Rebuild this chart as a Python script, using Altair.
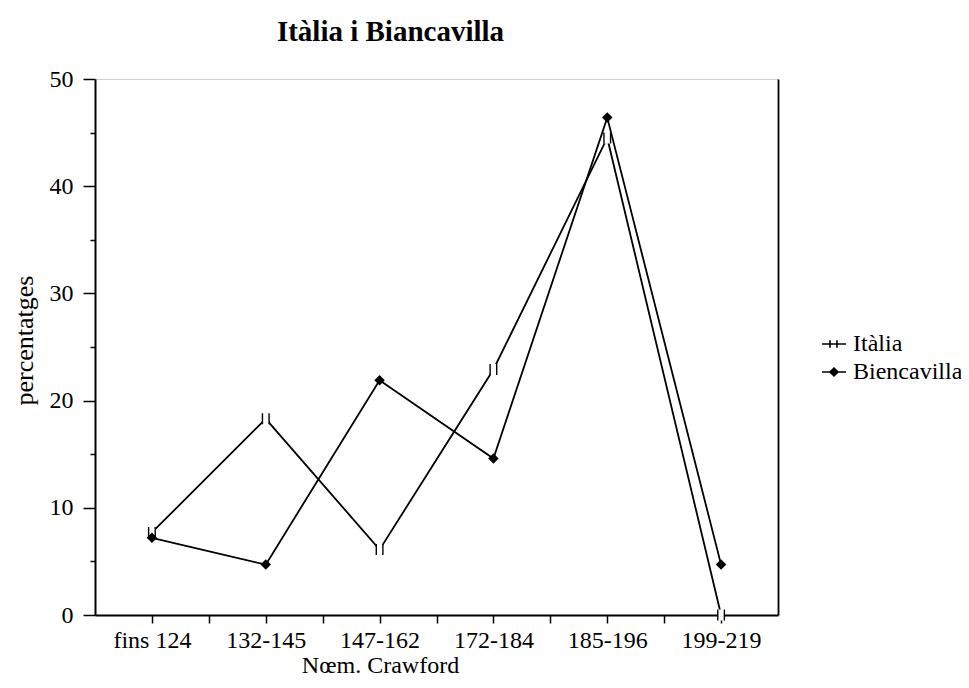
import json
import altair as alt
import pandas as pd

categories = ["fins 124", "132-145", "147-162", "172-184", "185-196", "199-219"]
italia = [7.7, 18.3, 6.1, 22.9, 44.5, 0.0]
biencavilla = [7.2, 4.7, 21.9, 14.6, 46.4, 4.7]
series_names = ["Itàlia", "Biencavilla"]
y_ticks = [0, 5, 10, 15, 20, 25, 30, 35, 40, 45, 50]

rows = []
for i, c in enumerate(categories):
    rows.append({"idx": i, "cat": c, "series": series_names[0], "value": italia[i]})
    rows.append({"idx": i, "cat": c, "series": series_names[1], "value": biencavilla[i]})
df = pd.DataFrame(rows)

W, H = 683, 536
FONT = "Liberation Serif"
FS = 24
x_tick_vals = [i / 2 for i in range(2 * len(categories) - 1)]
label_expr = "datum.value % 1 == 0 ? " + json.dumps(categories, ensure_ascii=False) + "[datum.value] : ''"

x_scale = alt.Scale(domain=[-0.5, len(categories) - 0.5], nice=False, zero=False)
y_scale = alt.Scale(domain=[0, 50], nice=False)

x_main = alt.X("idx:Q", scale=x_scale, axis=alt.Axis(
    values=x_tick_vals, labelExpr=label_expr, title="Nœm. Crawford",
    grid=False, domainColor="black", domainWidth=2, tickColor="black", tickWidth=1.5,
    tickSize=8, labelPadding=5, labelFont=FONT, labelFontSize=FS, labelColor="black",
    titleFont=FONT, titleFontSize=FS, titleFontWeight="normal", titleColor="black",
    titleX=285, titleY=57, titleAnchor="start", titleAlign="center", titleBaseline="alphabetic",
    labelFlush=False, labelOverlap=False))
y_main = alt.Y("value:Q", scale=y_scale, axis=alt.Axis(
    values=y_ticks, labelExpr="datum.value % 10 == 0 ? datum.label : ''",
    title="percentatges", grid=False, domainColor="black", domainWidth=2,
    tickColor="black", tickWidth=1.5,
    tickSize={"condition": {"test": "datum.value % 10 == 0", "value": 12}, "value": 5},
    labelPadding=10, labelFont=FONT, labelFontSize=FS, labelColor="black",
    titleFont=FONT, titleFontSize=26, titleFontWeight="normal", titleColor="black",
    titleX=-71, titleY=261, titleAngle=-90, titleAlign="center", titleBaseline="middle",
    labelOverlap=False))

base = alt.Chart(df)

lines = base.mark_line(color="black", strokeWidth=1.8).encode(
    x=x_main, y=y_main, detail="series:N")

ital = base.transform_filter(alt.datum.series == series_names[0])
ital_box = ital.mark_point(shape="M-0.6,-1L0.6,-1L0.6,1L-0.6,1Z", filled=True,
                           fill="white", strokeOpacity=0, size=121, opacity=1).encode(
    x=alt.X("idx:Q", scale=x_scale, axis=None), y=alt.Y("value:Q", scale=y_scale, axis=None))
ital_bars = ital.mark_point(shape="M-0.6,-1L-0.6,1M0.6,-1L0.6,1", filled=False,
                            stroke="black", strokeWidth=1.4, size=121, opacity=1).encode(
    x=alt.X("idx:Q", scale=x_scale, axis=None), y=alt.Y("value:Q", scale=y_scale, axis=None))

bien = base.transform_filter(alt.datum.series == series_names[1]).mark_point(
    shape="diamond", filled=True, color="black", size=110, opacity=1).encode(
    x=alt.X("idx:Q", scale=x_scale, axis=alt.Axis(orient="top", labels=False, ticks=False,
                                                   title=None, grid=False, domainColor="#cfcfcf",
                                                   domainWidth=1)),
    y=alt.Y("value:Q", scale=y_scale, axis=alt.Axis(orient="right", labels=False, ticks=False,
                                                     title=None, grid=False, domainColor="black",
                                                     domainWidth=1.8)))

path_i = "M-1,0L1,0M-0.33,-0.32L-0.33,0.32M0.25,-0.32L0.25,0.32"
path_b = ("M-1,0L1,0M0,-0.33L0.33,0L0,0.33L-0.33,0Z"
          "M0,-0.2L0.2,0L0,0.2L-0.2,0Z M0,-0.08L0.08,0L0,0.08L-0.08,0Z")
legend_layer = base.transform_filter("false").mark_point(
    filled=False, color="black", strokeWidth=1.6, opacity=1).encode(
    shape=alt.Shape("series:N", scale=alt.Scale(domain=series_names, range=[path_i, path_b]),
                    legend=alt.Legend(title=None, orient="none", legendX=726, legendY=252,
                                      symbolSize=576, symbolStrokeColor="black",
                                      symbolStrokeWidth=1.6,
                                      labelFont=FONT, labelFontSize=FS, labelColor="black",
                                      labelOffset=6, rowPadding=3)))

chart = alt.layer(lines, ital_box, ital_bars, bien, legend_layer).resolve_axis(
    x="independent", y="independent").properties(
    width=W, height=H,
    autosize=alt.AutoSizeParams(type="none"),
    padding={"left": 87, "top": 71, "right": 183, "bottom": 65},
    title=alt.TitleParams("Itàlia i Biancavilla", font=FONT, fontSize=29, fontWeight="bold",
                          color="black", anchor="middle", dx=-46, offset=20),
).configure_view(stroke=None).configure(background="white")

chart.save("out.html", embed_options={"renderer": "svg", "actions": False})
